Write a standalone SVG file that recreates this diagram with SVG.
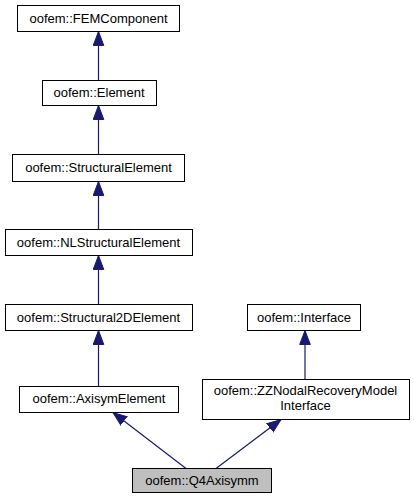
<svg xmlns="http://www.w3.org/2000/svg" width="414" height="500" viewBox="0 0 414 500">
<style>
.n rect{fill:#fff;stroke:#000;stroke-width:1}
.n.cur rect{fill:#bfbfbf}
.n text{font-family:"Liberation Sans",Helvetica,Arial,sans-serif;font-size:13px;fill:#000;text-anchor:middle}
.e line{stroke:#191970;stroke-width:1.2;marker-end:url(#arr)}
</style>
<defs>
<marker id="arr" markerUnits="userSpaceOnUse" viewBox="0 -6 15 12" refX="14" refY="0" markerWidth="15" markerHeight="12" orient="auto">
<path d="M0,-5.3 L14,0 L0,5.3 Z" fill="#191970" stroke="#191970" stroke-width="1"/>
</marker>
</defs>
<rect width="414" height="500" fill="#fff"/>
<g class="e" id="edges">
<line x1="98.5" y1="80" x2="98.5" y2="31.5"/>
<line x1="98.5" y1="154.5" x2="98.5" y2="105.5"/>
<line x1="98.5" y1="229.5" x2="98.5" y2="181.5"/>
<line x1="98.5" y1="304.5" x2="98.5" y2="255.5"/>
<line x1="98.5" y1="386.5" x2="98.5" y2="330.5"/>
<line x1="305" y1="379.5" x2="305" y2="330.5"/>
<line x1="186" y1="468.5" x2="113" y2="412.5"/>
<line x1="216" y1="468.5" x2="281" y2="419.5"/>
</g>
<g class="n" id="FEMComponent"><rect x="17.5" y="5.5" width="162" height="26"/><text x="98.5" y="22.5">oofem::FEMComponent</text></g>
<g class="n" id="Element"><rect x="42.5" y="80.5" width="114" height="25"/><text x="99" y="97">oofem::Element</text></g>
<g class="n" id="StructuralElement"><rect x="12.5" y="154.5" width="172" height="27"/><text x="98.5" y="172">oofem::StructuralElement</text></g>
<g class="n" id="NLStructuralElement"><rect x="5.5" y="229.5" width="187" height="26"/><text x="98.5" y="246.5">oofem::NLStructuralElement</text></g>
<g class="n" id="Structural2DElement"><rect x="5.5" y="304.5" width="187" height="26"/><text x="98.5" y="321.5">oofem::Structural2DElement</text></g>
<g class="n" id="Interface"><rect x="247.5" y="304.5" width="113" height="26"/><text x="304" y="321.5">oofem::Interface</text></g>
<g class="n" id="AxisymElement"><rect x="19.5" y="386.5" width="159" height="26"/><text x="99" y="403">oofem::AxisymElement</text></g>
<g class="n" id="ZZNodalRecoveryModelInterface"><rect x="202.5" y="379.5" width="207" height="40"/><text x="305.5" y="394.5">oofem::ZZNodalRecoveryModel</text><text x="305.5" y="409.5">Interface</text></g>
<g class="n cur" id="Q4Axisymm"><rect x="132.5" y="468.5" width="139" height="24"/><text x="202" y="485">oofem::Q4Axisymm</text></g>
</svg>
